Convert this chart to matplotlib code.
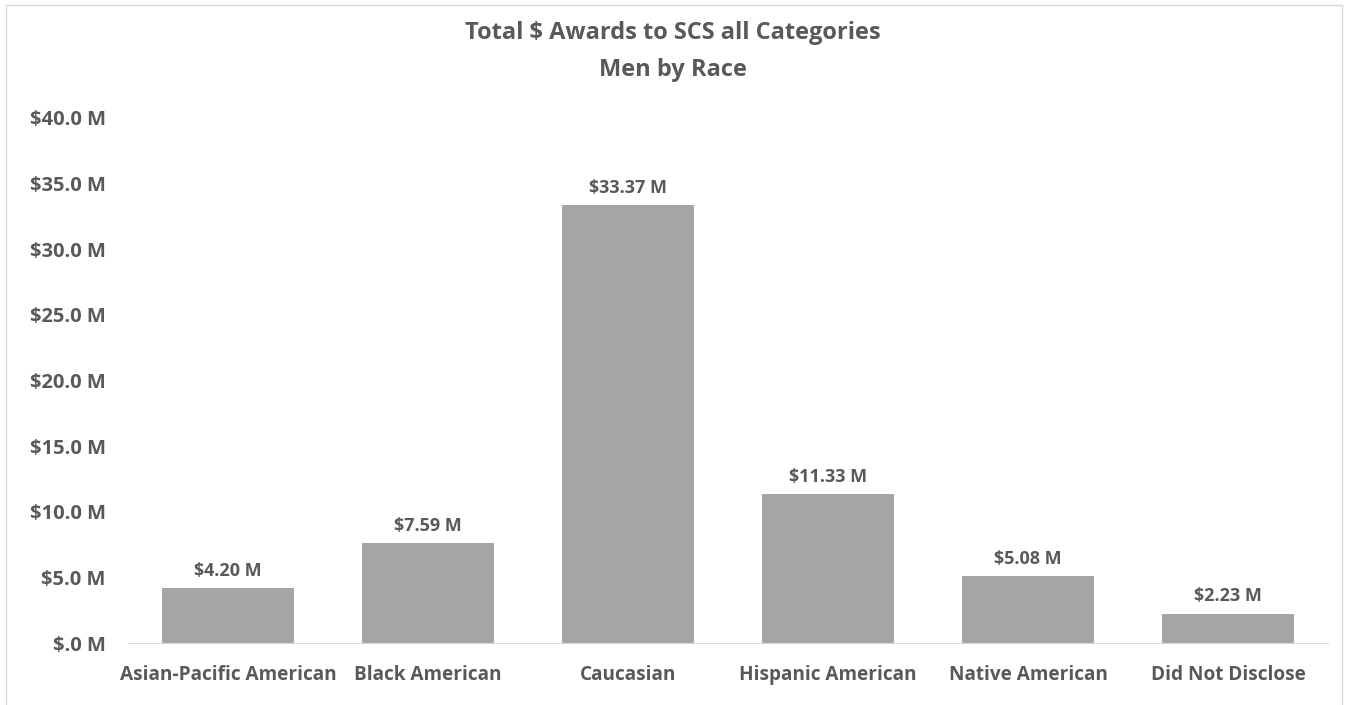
import matplotlib.pyplot as plt
from matplotlib.patches import Rectangle

categories = ['Asian-Pacific American', 'Black American', 'Caucasian',
              'Hispanic American', 'Native American', 'Did Not Disclose']
awards = [4.20, 7.59, 33.37, 11.33, 5.08, 2.23]  # $ millions
yticks = [0, 5, 10, 15, 20, 25, 30, 35, 40]

txt = '#595959'
plt.rcParams['font.family'] = ['Open Sans', 'DejaVu Sans']

fig = plt.figure(figsize=(13.46, 7.05), dpi=100)
# chart border (open at bottom, like the cropped original)
fig.patches.append(Rectangle((6/1346, -0.01), 1336/1346, 1.01 - 5/705,
                             transform=fig.transFigure, fill=False,
                             edgecolor='#d9d9d9', lw=1))

ax = fig.add_axes([128/1346, 1 - 643/705, 1200/1346, (643 - 118)/705])
x = range(len(categories))
bars = ax.bar(x, awards, width=0.66, color='#a5a5a5')
ax.set_xlim(-0.5, len(categories) - 0.5)
ax.set_ylim(0, 40)

for rect, v in zip(bars, awards):
    ax.annotate('$%.2f M' % v, (rect.get_x() + rect.get_width() / 2, v),
                xytext=(0, 6), textcoords='offset points', ha='center', va='bottom',
                fontsize=13, fontweight='bold', color=txt)

ax.set_xticks(list(x))
ax.set_xticklabels(categories, fontsize=13.7, fontweight='bold', color=txt)
ax.set_yticks(yticks)
ax.set_yticklabels(['$%.1f M' % t if t else '$.0 M' for t in yticks],
                   fontsize=14.5, fontweight='bold', color=txt)
ax.tick_params(axis='y', length=0, pad=16)
ax.tick_params(axis='x', length=0, pad=16)
for s in ['top', 'right', 'left']:
    ax.spines[s].set_visible(False)
ax.spines['bottom'].set_color('#d9d9d9')

fig.text(0.5, 1 - 33/705, 'Total $ Awards to SCS all Categories', ha='center', va='center',
         fontsize=17, fontweight='bold', color=txt)
fig.text(0.5, 1 - 70/705, 'Men by Race', ha='center', va='center',
         fontsize=17, fontweight='bold', color=txt)

fig.savefig('out.png', dpi=100)
